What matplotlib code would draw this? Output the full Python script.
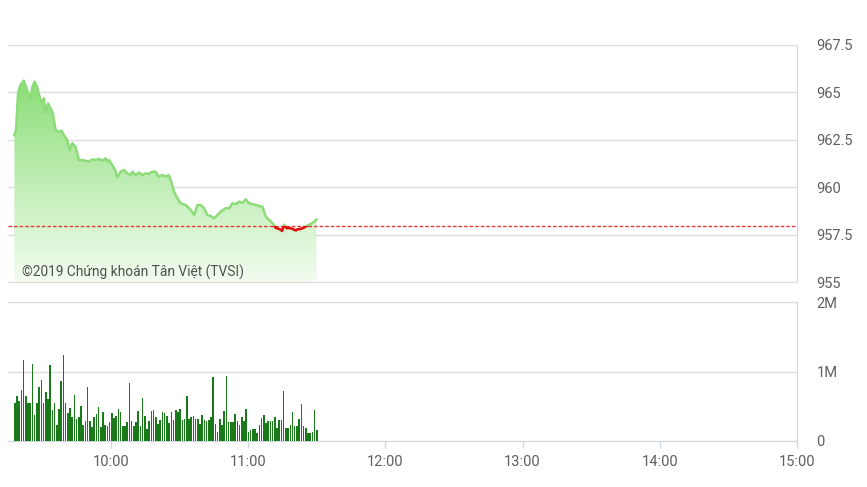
import numpy as np
import matplotlib
matplotlib.use("Agg")
import matplotlib.pyplot as plt
from matplotlib.patches import Rectangle, PathPatch
from matplotlib.colors import LinearSegmentedColormap

plt.rcParams["font.family"] = ["Roboto", "DejaVu Sans"]

# ---------------- data ----------------
# minutes after 09:00 for each price sample
price_minutes = [17.8, 18.5, 19.4, 20.4, 21.9, 22.6, 23.8, 24.8, 25.5, 26.6, 27.7, 28.8,
                 29.6, 30.7, 31.4, 32.5, 33.6, 34.6, 35.8, 37.2, 38.4, 39.4, 40.9, 41.9,
                 43.1, 44.5, 46.0, 47.4, 48.9, 50.4, 51.8, 53.3, 54.7, 56.2, 57.7, 58.4,
                 59.1, 60.6, 61.8, 62.8, 64.2, 65.7, 67.2, 68.6, 69.3, 70.8, 72.3, 73.7,
                 75.2, 76.6, 78.1, 79.6, 80.7, 82.5, 83.9, 85.4, 86.6, 87.6, 89.1, 90.5,
                 92.7, 94.9, 96.4, 97.8, 99.3, 100.7, 102.2, 103.7, 105.1, 106.6, 108.0,
                 110.2, 111.7, 113.1, 114.6, 116.1, 117.5, 119.0, 120.4, 121.9, 123.4,
                 124.8, 126.3, 127.7, 129.2, 130.7, 132.1, 133.6, 134.8, 135.8, 136.8,
                 138.0, 139.4, 140.9, 141.6, 143.1, 144.5, 146.0, 147.5, 148.9, 149.9]
price_values = [962.75, 963.02, 964.95, 965.39, 965.62, 965.39, 964.95, 964.63, 965.21,
                965.57, 965.30, 964.78, 964.51, 964.69, 963.90, 964.42, 964.16, 963.90,
                963.02, 962.93, 962.98, 962.75, 962.49, 961.96, 962.32, 962.14, 961.43,
                961.43, 961.40, 961.35, 961.47, 961.43, 961.50, 961.40, 961.52, 961.35,
                961.43, 961.17, 960.91, 960.52, 960.82, 960.91, 960.73, 960.64, 960.82,
                960.64, 960.77, 960.64, 960.73, 960.70, 960.82, 960.82, 960.56, 960.64,
                960.56, 960.64, 960.20, 959.76, 959.41, 959.15, 959.06, 958.80, 958.53,
                959.06, 959.06, 958.89, 958.53, 958.48, 958.36, 958.53, 958.71, 958.89,
                958.89, 959.15, 959.11, 959.24, 959.18, 959.36, 959.15, 959.11, 959.06,
                959.01, 958.97, 958.45, 958.27, 958.10, 957.85, 957.80, 957.70, 958.02,
                957.84, 957.85, 957.80, 957.72, 957.78, 957.80, 957.88, 957.98, 958.06,
                958.18, 958.30]
reference_price = 957.93

# per-minute matched volume, millions of shares, 09:18 .. 11:30
volume_millions = [0.55, 0.65, 0.57, 0.74, 1.17, 0.65, 0.55, 0.55, 1.11, 0.37,
                   0.55, 0.78, 0.88, 0.54, 0.70, 0.60, 1.09, 0.44, 0.55, 0.23,
                   0.46, 0.87, 1.24, 0.55, 0.40, 0.48, 0.35, 0.66, 0.32, 0.35,
                   0.50, 0.23, 0.29, 0.77, 0.29, 0.20, 0.35, 0.39, 0.49, 0.20,
                   0.42, 0.23, 0.22, 0.28, 0.40, 0.33, 0.36, 0.46, 0.42, 0.22,
                   0.22, 0.28, 0.84, 0.29, 0.22, 0.28, 0.43, 0.22, 0.62, 0.36,
                   0.17, 0.29, 0.43, 0.44, 0.35, 0.24, 0.30, 0.42, 0.41, 0.36,
                   0.26, 0.42, 0.30, 0.44, 0.42, 0.46, 0.30, 0.32, 0.65, 0.31,
                   0.35, 0.36, 0.31, 0.31, 0.25, 0.37, 0.30, 0.29, 0.30, 0.35,
                   0.92, 0.24, 0.13, 0.31, 0.23, 0.43, 0.94, 0.28, 0.28, 0.28,
                   0.39, 0.29, 0.23, 0.35, 0.29, 0.46, 0.13, 0.16, 0.17, 0.17,
                   0.11, 0.23, 0.33, 0.37, 0.26, 0.29, 0.29, 0.29, 0.34, 0.18,
                   0.30, 0.30, 0.72, 0.18, 0.18, 0.23, 0.42, 0.22, 0.22, 0.32,
                   0.53, 0.22, 0.18, 0.12, 0.12, 0.13, 0.45, 0.16]
volume_first_minute = 18.0    # 09:18
volume_last_minute = 150.0    # 11:30

price_ticks = [955, 957.5, 960, 962.5, 965, 967.5]
price_tick_labels = ["955", "957.5", "960", "962.5", "965", "967.5"]
volume_ticks = [0, 1e6, 2e6]
volume_tick_labels = ["0", "1M", "2M"]
hour_labels = ["10:00", "11:00", "12:00", "13:00", "14:00", "15:00"]
watermark = "©2019 Chứng khoán Tân Việt (TVSI)"

# ---------------- drawing ----------------
W, H = 867, 487
fig = plt.figure(figsize=(W / 100, H / 100), dpi=100)
fig.patch.set_facecolor("white")

left, right = 8, 797
ax1 = fig.add_axes([left / W, 1 - 282 / H, (right - left) / W, (282 - 45) / H])
ax2 = fig.add_axes([left / W, 1 - 441 / H, (right - left) / W, (441 - 302) / H])

x_min, x_max = 9 * 60 + 15, 15 * 60
t = 9 * 60 + np.array(price_minutes)
p = np.array(price_values)

grid_c = "#dcdcdc"
axis_c = "#cfd9e4"
text_c = "#5f5f5f"
fs = 10.5

# gradient fill under the price line
cmap = LinearSegmentedColormap.from_list("g", [(0.95, 0.99, 0.94), (0.55, 0.87, 0.47)])
poly = ax1.fill_between(t, p, price_ticks[0], color="none", lw=0)
clip = PathPatch(poly.get_paths()[0], transform=ax1.transData, facecolor="none", edgecolor="none")
ax1.add_patch(clip)
grad = np.linspace(0, 1, 256).reshape(-1, 1)
im = ax1.imshow(grad, extent=[t.min(), t.max(), price_ticks[0], p.max()], origin="lower",
                aspect="auto", cmap=cmap, zorder=1, interpolation="bicubic")
im.set_clip_path(clip)

# price line: green above reference, red below
up = ax1.plot(t, p, color="#8ddc7a", lw=1.8, zorder=3, solid_joinstyle="round")[0]
dn = ax1.plot(t, p, color="#e01010", lw=1.9, zorder=5, solid_joinstyle="round")[0]
up.set_clip_path(Rectangle((x_min, reference_price), x_max - x_min, 20, transform=ax1.transData))
dn.set_clip_path(Rectangle((x_min, reference_price - 20), x_max - x_min, 20, transform=ax1.transData))
ax1.axhline(reference_price, color="#e23a3a", lw=1.0, ls=(0, (2.6, 1.4)), zorder=4)

ax1.set_xlim(x_min, x_max)
ax1.set_ylim(price_ticks[0], price_ticks[-1])
ax1.set_yticks(price_ticks)
ax1.set_yticklabels(price_tick_labels)
ax1.yaxis.tick_right()
ax1.tick_params(axis="y", length=0, pad=14, labelsize=fs, labelcolor=text_c)
ax1.set_xticks([])
ax1.grid(axis="y", color=grid_c, lw=1)
ax1.set_axisbelow(True)
ax1.spines["left"].set_visible(False)
for s in ["top", "bottom"]:
    ax1.spines[s].set_color(grid_c)
ax1.spines["right"].set_color(axis_c)
for lab in ax1.get_yticklabels():
    lab.set_horizontalalignment("left")
ax1.text(0.0177, 0.04, watermark, transform=ax1.transAxes, fontsize=9.9,
         color="#505050", ha="left", va="center", zorder=6)

# volume bars
vt = 9 * 60 + np.linspace(volume_first_minute, volume_last_minute, len(volume_millions))
step = (volume_last_minute - volume_first_minute) / (len(volume_millions) - 1)
ax2.bar(vt, np.array(volume_millions) * 1e6, width=step * 0.72, color="#1a7a1a", zorder=3)
ax2.set_xlim(x_min, x_max)
ax2.set_ylim(0, 2e6)
ax2.set_yticks(volume_ticks)
ax2.set_yticklabels(volume_tick_labels)
ax2.yaxis.tick_right()
ax2.tick_params(axis="y", length=0, pad=14, labelsize=fs, labelcolor=text_c)
ax2.set_xticks([600 + 60 * i for i in range(len(hour_labels))])
ax2.set_xticklabels(hour_labels)
ax2.tick_params(axis="x", length=5, width=1, color=axis_c, pad=5, labelsize=fs, labelcolor=text_c)
ax2.grid(axis="y", color=grid_c, lw=1)
ax2.set_axisbelow(True)
ax2.spines["left"].set_visible(False)
ax2.spines["top"].set_color(grid_c)
ax2.spines["bottom"].set_color(axis_c)
ax2.spines["right"].set_color(axis_c)

fig.savefig("out.png", dpi=100, facecolor="white")
